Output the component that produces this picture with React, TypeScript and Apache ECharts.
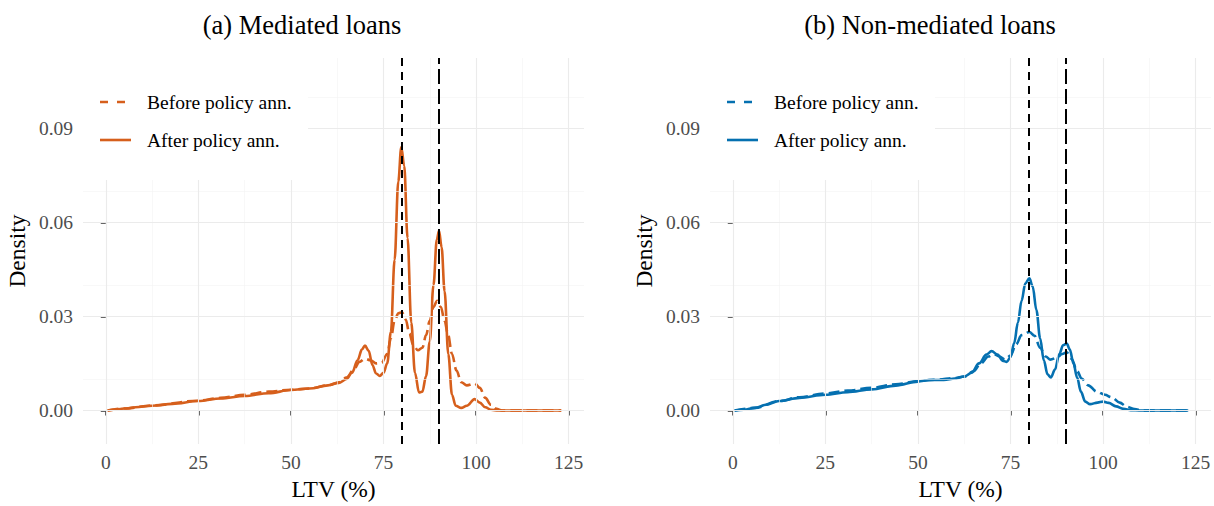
import React, { useEffect, useRef } from "react";
import * as echarts from "echarts";

// ---------- data ----------
const panelTitles = ["(a) Mediated loans", "(b) Non-mediated loans"];
const legendNames = ["Before policy ann.", "After policy ann."];
const xTicks = [0, 25, 50, 75, 100, 125];
const xMinor = [12.5, 37.5, 62.5, 87.5, 112.5];
const yTicks = [0, 0.03, 0.06, 0.09];
const yMinor = [0.015, 0.045, 0.075, 0.105];
const policyLines = [80, 90];

// Panel (a) Mediated, After (solid)
const medAfterX = [0.5, 2, 5, 8, 12.5, 18, 25, 31, 37.5, 44, 50, 55, 60, 63, 65, 66.5, 68, 69.2, 70, 71, 72, 73, 74, 75, 76, 77, 78, 79, 79.8, 80.6, 81.5, 82.5, 83.5, 84.6, 85.5, 86.5, 87.5, 88.5, 89.4, 90, 90.7, 91.5, 92.5, 93.5, 94.5, 96, 97.5, 99.6, 101, 102.5, 104, 106, 110, 123];
const medAfterY = [0, 0.0002, 0.0006, 0.001, 0.0015, 0.0021, 0.003, 0.0038, 0.0046, 0.0055, 0.0065, 0.007, 0.008, 0.0088, 0.01, 0.012, 0.016, 0.0195, 0.0207, 0.019, 0.0145, 0.0118, 0.011, 0.012, 0.015, 0.025, 0.048, 0.073, 0.084, 0.078, 0.055, 0.028, 0.012, 0.0057, 0.006, 0.011, 0.022, 0.04, 0.0545, 0.0573, 0.052, 0.038, 0.018, 0.005, 0.0015, 0.0008, 0.0015, 0.0036, 0.0025, 0.001, 0.0002, 0, 0, 0];
// Panel (a) Mediated, Before (dashed)
const medBeforeX = [0.5, 5, 12.5, 25, 31, 37.5, 44, 50, 55, 60, 63, 65, 67, 68.5, 70, 71.5, 73, 74.5, 76, 77, 78, 79, 80, 81, 82, 83, 84.3, 85.5, 86.5, 87.5, 88.5, 89.5, 90.5, 91.5, 92.4, 93.5, 94.7, 96, 97.5, 99.6, 101, 102.5, 104, 105.5, 107, 123];
const medBeforeY = [0, 0.0006, 0.0016, 0.0031, 0.004, 0.005, 0.006, 0.0066, 0.007, 0.008, 0.009, 0.0105, 0.013, 0.0155, 0.0165, 0.016, 0.015, 0.0152, 0.018, 0.023, 0.0286, 0.031, 0.0313, 0.029, 0.0245, 0.021, 0.0192, 0.02, 0.024, 0.0286, 0.033, 0.035, 0.033, 0.0285, 0.0244, 0.018, 0.0128, 0.009, 0.0080, 0.0086, 0.0072, 0.004, 0.0018, 0.0005, 0, 0];

// Panel (b) Non-mediated, After (solid)
const nonAfterX = [0.5, 3, 6, 9, 12.5, 18, 25, 31, 37.5, 44, 50, 53, 57, 60, 62.5, 64.5, 66.5, 68.5, 69.9, 71.5, 73, 74, 75, 76, 77, 78, 79, 80.1, 81, 82, 83, 84, 85, 85.9, 87, 88.2, 89.2, 90.2, 91, 92, 93, 94, 95.2, 96.5, 98.5, 100, 101.5, 103.5, 105.5, 107.5, 110, 123];
const nonAfterY = [0, 0.0002, 0.0008, 0.0018, 0.003, 0.004, 0.005, 0.0058, 0.0067, 0.0079, 0.0092, 0.0097, 0.0097, 0.0102, 0.0108, 0.012, 0.015, 0.0178, 0.0189, 0.0178, 0.0158, 0.0155, 0.017, 0.0215, 0.028, 0.035, 0.0405, 0.0421, 0.0395, 0.032, 0.023, 0.016, 0.0115, 0.0105, 0.013, 0.018, 0.0208, 0.0213, 0.0195, 0.015, 0.0105, 0.006, 0.0028, 0.002, 0.0025, 0.0028, 0.0024, 0.0013, 0.0005, 0.0001, 0, 0];
// Panel (b) Non-mediated, Before (dashed)
const nonBeforeX = [0.5, 6, 12.5, 18, 25, 31, 37.5, 44, 50, 55, 60, 62.5, 65, 67, 69, 70.5, 72, 73.5, 75, 76.5, 78, 80.1, 81.5, 83, 84.5, 85.8, 87.5, 89, 90.2, 91.5, 93, 94.2, 96, 98.3, 100.5, 102.3, 104.5, 106.4, 108.5, 110.5, 123];
const nonBeforeY = [0, 0.0008, 0.003, 0.0042, 0.0054, 0.0063, 0.0072, 0.0083, 0.0094, 0.0098, 0.0103, 0.0108, 0.0125, 0.015, 0.0172, 0.018, 0.0172, 0.0162, 0.0175, 0.021, 0.024, 0.025, 0.0238, 0.02, 0.0172, 0.0162, 0.0168, 0.018, 0.0185, 0.0165, 0.0125, 0.0102, 0.008, 0.006, 0.005, 0.0042, 0.0025, 0.0012, 0.0004, 0, 0];

const colors = ["#D65F1C", "#0570B0"];

// ---------- layout ----------
const FONT = '"Liberation Serif", "DejaVu Serif", serif';
const W = 1214;
const H = 506;
const grids = [
  { left: 83, top: 58, width: 501, height: 390 },
  { left: 710, top: 58, width: 501, height: 390 },
];
const titleCenters = [297, 925];

const zip = (xs: number[], ys: number[]) => xs.map((x, i) => [x, ys[i]]);

function buildOption() {
  const curves = [
    [zip(medBeforeX, medBeforeY), zip(medAfterX, medAfterY)],
    [zip(nonBeforeX, nonBeforeY), zip(nonAfterX, nonAfterY)],
  ];

  const xAxis: any[] = [];
  const yAxis: any[] = [];
  const series: any[] = [];
  const graphic: any[] = [];

  grids.forEach((g, i) => {
    xAxis.push({
      type: "value",
      gridIndex: i,
      min: -6.15,
      max: 129.15,
      axisLine: { show: false },
      splitLine: { show: false },
      axisTick: {
        show: true,
        customValues: xTicks,
        length: 5,
        lineStyle: { color: "#333", width: 1.5 },
      },
      axisLabel: {
        customValues: xTicks,
        margin: 8,
        fontSize: 19.5,
        color: "#4d4d4d",
        fontFamily: FONT,
      },
      name: "LTV (%)",
      nameLocation: "middle",
      nameGap: 31,
      nameTextStyle: { fontSize: 23.5, color: "#000", fontFamily: FONT },
    });
    yAxis.push({
      type: "value",
      gridIndex: i,
      min: -0.01074,
      max: 0.1124,
      axisLine: { show: false },
      splitLine: { show: false },
      axisTick: {
        show: true,
        customValues: yTicks,
        length: 5,
        lineStyle: { color: "#333", width: 1.5 },
      },
      axisLabel: {
        customValues: yTicks,
        margin: 10,
        fontSize: 19.5,
        color: "#4d4d4d",
        fontFamily: FONT,
        formatter: (v: number) => v.toFixed(2),
      },
      name: "Density",
      nameLocation: "middle",
      nameGap: 54,
      nameTextStyle: { fontSize: 23.5, color: "#000", fontFamily: FONT },
    });

    const major = { color: "#EBEBEB", width: 1.1, type: "solid" };
    const minor = { color: "#F3F3F3", width: 0.6, type: "solid" };
    series.push({
      type: "line",
      xAxisIndex: i,
      yAxisIndex: i,
      data: [[0, 0]],
      symbol: "none",
      silent: true,
      z: 1,
      lineStyle: { opacity: 0 },
      markLine: {
        silent: true,
        symbol: ["none", "none"],
        label: { show: false },
        animation: false,
        data: [
          ...xMinor.map((v) => ({ xAxis: v, lineStyle: minor })),
          ...yMinor.map((v) => ({ yAxis: v, lineStyle: minor })),
          ...xTicks.map((v) => ({ xAxis: v, lineStyle: major })),
          ...yTicks.map((v) => ({ yAxis: v, lineStyle: major })),
        ],
      },
    });

    // curves
    [0, 1].forEach((k) => {
      series.push({
        type: "line",
        name: legendNames[k] + (i === 1 ? " " : ""),
        xAxisIndex: i,
        yAxisIndex: i,
        data: curves[i][k],
        symbol: "none",
        smooth: 0.35,
        smoothMonotone: "x",
        z: 3,
        lineStyle: {
          color: colors[i],
          width: 2.6,
          type: k === 0 ? [11, 5] : "solid",
        },
      });
    });

    // policy lines
    series.push({
      type: "line",
      xAxisIndex: i,
      yAxisIndex: i,
      data: [[0, 0]],
      symbol: "none",
      silent: true,
      z: 5,
      lineStyle: { opacity: 0 },
      markLine: {
        silent: true,
        symbol: ["none", "none"],
        label: { show: false },
        animation: false,
        data: [
          { xAxis: policyLines[0], lineStyle: { color: "#000", width: 2, type: [8, 6] } },
          { xAxis: policyLines[1], lineStyle: { color: "#000", width: 2, type: [15, 5] } },
        ],
      },
    });

    // legend box (white background covering gridlines) and keys
    const lx = g.left;
    graphic.push({
      type: "rect",
      z: 10,
      shape: { x: lx, y: g.top, width: 225, height: 122 },
      style: { fill: "#fff" },
      silent: true,
    });
    graphic.push({
      type: "line",
      z: 11,
      shape: { x1: lx + 17, y1: 102, x2: lx + 43, y2: 102 },
      style: { stroke: colors[i], lineWidth: 2.6, lineDash: [8, 9] },
    });
    graphic.push({
      type: "line",
      z: 11,
      shape: { x1: lx + 17, y1: 140, x2: lx + 48, y2: 140 },
      style: { stroke: colors[i], lineWidth: 2.6 },
    });
    legendNames.forEach((nm, k) => {
      graphic.push({
        type: "text",
        z: 11,
        x: lx + 64,
        y: k === 0 ? 102 : 140,
        style: {
          text: nm,
          fill: "#000",
          font: `19.5px ${FONT}`,
          textVerticalAlign: "middle",
          verticalAlign: "middle",
        },
      });
    });
  });

  const title = panelTitles.map((t, i) => ({
    text: t,
    left: titleCenters[i],
    top: 6,
    textAlign: "center",
    textStyle: { fontSize: 26.5, fontWeight: "normal", color: "#000", fontFamily: FONT },
  }));

  return {
    animation: false,
    backgroundColor: "#fff",
    title,
    grid: grids,
    xAxis,
    yAxis,
    series,
    graphic,
  };
}

export default function App() {
  const ref = useRef<HTMLDivElement>(null);
  useEffect(() => {
    if (!ref.current) return;
    const chart = echarts.init(ref.current, undefined, { renderer: "svg" });
    chart.setOption(buildOption() as any);
    return () => chart.dispose();
  }, []);
  return (
    <div
      ref={ref}
      style={{ position: "absolute", left: 0, top: 0, width: W, height: H, background: "#fff" }}
    />
  );
}
